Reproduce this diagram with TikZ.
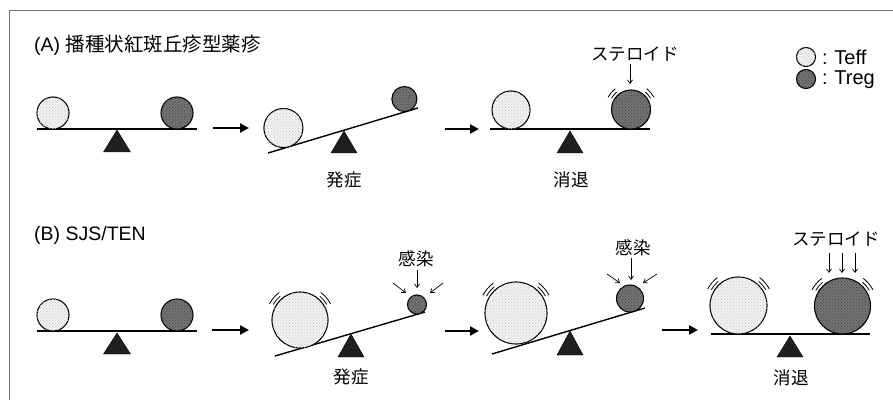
\documentclass[tikz,border=0pt]{standalone}
\usepackage{fontspec}
\setmainfont{Liberation Sans}
\newfontfamily\jp{Noto Sans CJK JP}
\usetikzlibrary{arrows.meta,patterns}
\tikzset{
  ballbase/.style={circle, draw=black, line width=1.1pt, inner sep=0pt},
  teff/.style={ballbase, fill=black!5, postaction={pattern=crosshatch dots, pattern color=black!22}, minimum size=#1},
  treg/.style={ballbase, fill=black!55, postaction={pattern=crosshatch dots, pattern color=black!72}, minimum size=#1},
  beam/.style={line width=1.4pt},
  fulcrum/.style={fill=black!88, draw=black, line width=0.4pt},
  bigarrow/.style={line width=2.6pt, -{Triangle[length=9pt,width=9pt]}},
  thinarrow/.style={line width=0.7pt, -{Straight Barb[length=3.5pt,width=5pt]}},
  shakeline/.style={line width=0.8pt},
  jlabel/.style={font=\jp\fontsize{17.5}{20}\selectfont, inner sep=0pt},
  title/.style={font=\fontsize{19.5}{22}\selectfont, inner sep=0pt, anchor=west},
  legend/.style={font=\fontsize{20}{22}\selectfont, inner sep=0pt, anchor=west},
  frame/.style={draw=black!55, line width=0.8pt}
}
\newcommand\shk[2]{%
  \draw[shakeline] (#1.center) ++(130:{#2+3}) arc[start angle=130,end angle=150,radius={#2+3}];
  \draw[shakeline] (#1.center) ++(127:{#2+6.5}) arc[start angle=127,end angle=152,radius={#2+6.5}];
  \draw[shakeline] (#1.center) ++(50:{#2+3}) arc[start angle=50,end angle=30,radius={#2+3}];
  \draw[shakeline] (#1.center) ++(53:{#2+6.5}) arc[start angle=53,end angle=28,radius={#2+6.5}];
}
\begin{document}
\begin{tikzpicture}[x=1pt,y=1pt]
\useasboundingbox (0,0) rectangle (893,-406);
% frame
\draw[frame] (893,-10) -- (9,-10) -- (9,-400);

% ===== Panel A =====
\node[title] (ta) at (34,-45) {(A) {\jp 播種状紅斑丘疹型薬疹}};

% A1
\coordinate (a1s) at (37,-129); \coordinate (a1e) at (197,-129);
\draw[beam] (a1s) -- (a1e);
\draw[fulcrum] (117,-130) -- (103.5,-152) -- (130.5,-152) -- cycle;
\node[teff=32pt] (a1l) at (53,-113) {};
\node[treg=32pt] (a1r) at (177,-113) {};

\coordinate (ar1s) at (213,-128); \coordinate (ar1e) at (249,-128);
\draw[bigarrow] (ar1s) -- (ar1e);

% A2
\coordinate (a2s) at (268,-153); \coordinate (a2e) at (418,-108);
\draw[beam] (a2s) -- (a2e);
\draw[fulcrum] (344,-131) -- (331,-153) -- (357,-153) -- cycle;
\node[teff=39pt] (a2l) at (283.4,-128) {};
\node[treg=25pt] (a2r) at (404.4,-99) {};
\node[jlabel] (onsA) at (344,-180) {発症};

\coordinate (ar2s) at (445,-129); \coordinate (ar2e) at (479,-129);
\draw[bigarrow] (ar2s) -- (ar2e);

% A3
\coordinate (a3s) at (490,-129); \coordinate (a3e) at (650,-129);
\draw[beam] (a3s) -- (a3e);
\draw[fulcrum] (570,-131) -- (557,-153) -- (583,-153) -- cycle;
\node[teff=38pt] (a3l) at (511,-110) {};
\node[treg=39pt] (a3r) at (631,-109.5) {};
\shk{a3r}{19.5}
\node[jlabel] (sterA) at (635,-54) {ステロイド};
\coordinate (sa1) at (630,-84);
\draw[thinarrow] (sterA.south -| sa1) ++(0,-3) -- (sa1);
\node[jlabel] (remA) at (571,-180) {消退};

% legend
\node[teff=19pt] (lg1) at (806,-57) {};
\node[treg=19pt] (lg2) at (806,-79) {};
\node[legend] (lt1) at (822,-57.5) {:\,\,Teff};
\node[legend] (lt2) at (822,-79.5) {:\,\,Treg};

% ===== Panel B =====
\node[title] (tb) at (34,-235) {(B) SJS/TEN};

% B1
\coordinate (b1s) at (37,-331); \coordinate (b1e) at (197,-331);
\draw[beam] (b1s) -- (b1e);
\draw[fulcrum] (117,-333) -- (103.5,-354) -- (130.5,-354) -- cycle;
\node[teff=32pt] (b1l) at (53,-315) {};
\node[treg=32pt] (b1r) at (177,-315) {};

\coordinate (ar3s) at (212,-330); \coordinate (ar3e) at (249,-330);
\draw[bigarrow] (ar3s) -- (ar3e);

% B2
\coordinate (b2s) at (275,-356); \coordinate (b2e) at (425,-312);
\draw[beam] (b2s) -- (b2e);
\draw[fulcrum] (351,-334) -- (338,-357) -- (364,-357) -- cycle;
\node[teff=56pt] (b2l) at (300,-320) {};
\shk{b2l}{28}
\node[treg=19pt] (b2r) at (417,-304.5) {};
\node[jlabel] (infB2) at (416,-259) {感染};
\coordinate (i2a) at (417,-288); \coordinate (i2b) at (406,-293); \coordinate (i2c) at (430,-293);
\draw[thinarrow] (417,-270) -- (i2a);
\draw[thinarrow] (393,-283) -- (i2b);
\draw[thinarrow] (443,-283) -- (i2c);
\node[jlabel] (onsB) at (351,-377) {発症};

\coordinate (ar4s) at (445,-331); \coordinate (ar4e) at (479,-331);
\draw[bigarrow] (ar4s) -- (ar4e);

% B3
\coordinate (b3s) at (492,-354); \coordinate (b3e) at (645,-308);
\draw[beam] (b3s) -- (b3e);
\draw[fulcrum] (570,-331) -- (557,-355) -- (583,-355) -- cycle;
\node[teff=62pt] (b3l) at (516,-313) {};
\shk{b3l}{31}
\node[treg=27pt] (b3r) at (630,-298.5) {};
\node[jlabel] (infB3) at (633,-248) {感染};
\coordinate (i3a) at (631,-280); \coordinate (i3b) at (620,-283); \coordinate (i3c) at (643,-283);
\draw[thinarrow] (631,-258) -- (i3a);
\draw[thinarrow] (607,-274) -- (i3b);
\draw[thinarrow] (657,-274) -- (i3c);

\coordinate (ar5s) at (662,-330); \coordinate (ar5e) at (698,-330);
\draw[bigarrow] (ar5s) -- (ar5e);

% B4
\coordinate (b4s) at (711,-334); \coordinate (b4e) at (870,-334);
\draw[beam] (b4s) -- (b4e);
\draw[fulcrum] (790,-336) -- (777,-357) -- (803,-357) -- cycle;
\node[teff=57pt] (b4l) at (738.5,-305.5) {};
\node[treg=56pt] (b4r) at (842.5,-306) {};
\shk{b4l}{28.5}
\shk{b4r}{28}
\node[jlabel] (sterB) at (836,-239) {ステロイド};
\coordinate (s1) at (829,-273); \coordinate (s2) at (842,-273); \coordinate (s3) at (855,-273);
\draw[thinarrow] (829,-253) -- (s1);
\draw[thinarrow] (842,-253) -- (s2);
\draw[thinarrow] (855,-253) -- (s3);
\node[jlabel] (remB) at (791,-378) {消退};
\end{tikzpicture}
\end{document}
